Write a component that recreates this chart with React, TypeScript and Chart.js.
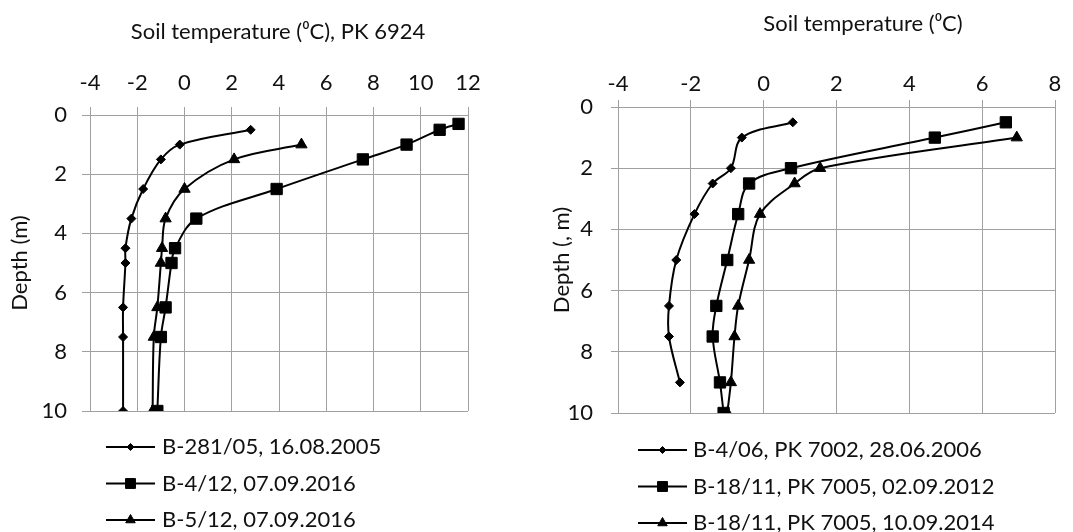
import React, { useEffect, useRef } from 'react';
import { Chart, registerables } from 'chart.js';
import { drawPoint } from 'chart.js/helpers';
Chart.register(...registerables);

// ---------- Data: left chart (PK 6924) ----------
const leftTitle = 'Soil temperature (\u2070C), PK 6924';
const leftYTitle = 'Depth (m)';
const leftXTicks = [-4, -2, 0, 2, 4, 6, 8, 10, 12];
const leftYTicks = [0, 2, 4, 6, 8, 10];
const leftLabels = ['B-281/05, 16.08.2005', 'B-4/12, 07.09.2016', 'B-5/12, 07.09.2016'];
const depthsA1 = [0.5, 1, 1.5, 2.5, 3.5, 4.5, 5, 6.5, 7.5, 10];
const tempsA1 = [2.8, -0.2, -1.0, -1.75, -2.25, -2.5, -2.5, -2.6, -2.6, -2.6];
const depthsA2 = [0.3, 0.5, 1, 1.5, 2.5, 3.5, 4.5, 5, 6.5, 7.5, 10];
const tempsA2 = [11.6, 10.8, 9.4, 7.55, 3.9, 0.5, -0.4, -0.55, -0.8, -1.0, -1.15];
const depthsA3 = [1, 1.5, 2.5, 3.5, 4.5, 5, 6.5, 7.5, 10];
const tempsA3 = [4.95, 2.1, 0.0, -0.8, -0.95, -1.0, -1.15, -1.3, -1.35];

// ---------- Data: right chart ----------
const rightTitle = 'Soil temperature (\u2070C)';
const rightYTitle = 'Depth (, m)';
const rightXTicks = [-4, -2, 0, 2, 4, 6, 8];
const rightYTicks = [0, 2, 4, 6, 8, 10];
const rightLabels = ['B-4/06, PK 7002, 28.06.2006', 'B-18/11, PK 7005, 02.09.2012', 'B-18/11, PK 7005, 10.09.2014'];
const depthsB1 = [0.5, 1, 2, 2.5, 3.5, 5, 6.5, 7.5, 9];
const tempsB1 = [0.8, -0.6, -0.9, -1.4, -1.9, -2.4, -2.6, -2.6, -2.3];
const depthsB2 = [0.5, 1, 2, 2.5, 3.5, 5, 6.5, 7.5, 9, 10];
const tempsB2 = [6.65, 4.7, 0.75, -0.4, -0.7, -1.0, -1.3, -1.4, -1.2, -1.1];
const depthsB3 = [1, 2, 2.5, 3.5, 5, 6.5, 7.5, 9, 10];
const tempsB3 = [6.95, 1.55, 0.85, -0.1, -0.4, -0.7, -0.8, -0.9, -1.0];

const FONT = 'Lato, "Open Sans", sans-serif';
const FS = 22;
const TEXT = '#111';
const GRID = '#a0a0a0';
const pointStyles = ['rectRot', 'rect', 'triangle'];
const pointRadii = [4.5, 8, 6.5];

function makeDatasets(labels: string[], temps: number[][], depths: number[][]) {
  return labels.map((label, i) => ({
    label,
    data: temps[i].map((t, j) => ({ x: t, y: depths[i][j] })),
    showLine: true,
    borderColor: '#000',
    backgroundColor: '#000',
    pointBackgroundColor: '#000',
    pointBorderColor: '#000',
    borderWidth: 2,
    tension: 0.35,
    pointStyle: pointStyles[i],
    pointRadius: pointRadii[i],
    pointBorderWidth: 1,
  }));
}

const freeTitle = {
  id: 'freeTitle',
  afterDraw(chart: any, _a: any, opts: any) {
    const ctx = chart.ctx;
    ctx.save();
    ctx.font = `${opts.size}px ${FONT}`;
    ctx.fillStyle = TEXT;
    ctx.textAlign = 'center';
    ctx.textBaseline = 'middle';
    ctx.fillText(opts.text, opts.x, opts.y);
    ctx.restore();
  },
};

const listLegend = {
  id: 'listLegend',
  afterDraw(chart: any, _a: any, opts: any) {
    const ctx = chart.ctx;
    ctx.save();
    chart.data.datasets.forEach((ds: any, i: number) => {
      const y = opts.y0 + i * opts.dy;
      ctx.strokeStyle = ds.borderColor;
      ctx.lineWidth = ds.borderWidth;
      ctx.beginPath();
      ctx.moveTo(opts.x0, y);
      ctx.lineTo(opts.x1, y);
      ctx.stroke();
      ctx.fillStyle = ds.pointBackgroundColor;
      ctx.strokeStyle = ds.pointBorderColor;
      ctx.lineWidth = 1;
      drawPoint(ctx, { pointStyle: ds.pointStyle, radius: ds.pointRadius - 1, rotation: 0, borderWidth: 1 } as any, (opts.x0 + opts.x1) / 2, y);
      ctx.font = `${opts.size}px ${FONT}`;
      ctx.fillStyle = TEXT;
      ctx.textAlign = 'left';
      ctx.textBaseline = 'middle';
      ctx.fillText(ds.label, opts.textX, y);
    });
    ctx.restore();
  },
};

function makeConfig(p: any): any {
  return {
    type: 'scatter',
    data: { datasets: p.datasets },
    plugins: [freeTitle, listLegend],
    options: {
      responsive: false,
      animation: false,
      layout: { padding: p.padding },
      plugins: {
        legend: { display: false },
        tooltip: { enabled: false },
        freeTitle: p.title,
        listLegend: p.legend,
      },
      scales: {
        x: {
          type: 'linear',
          position: 'top',
          min: p.xTicks[0],
          max: p.xTicks[p.xTicks.length - 1],
          afterBuildTicks: (s: any) => { s.ticks = p.xTicks.map((v: number) => ({ value: v })); },
          afterFit: (s: any) => { s.height = p.xHeight; },
          grid: { color: GRID, lineWidth: 1, tickLength: p.tickLen, tickColor: GRID },
          border: { color: GRID, width: 1 },
          ticks: { color: TEXT, font: { family: FONT, size: FS }, padding: p.xPad, maxRotation: 0 },
        },
        y: {
          type: 'linear',
          reverse: true,
          min: p.yTicks[0],
          max: p.yTicks[p.yTicks.length - 1],
          afterBuildTicks: (s: any) => { s.ticks = p.yTicks.map((v: number) => ({ value: v })); },
          afterFit: (s: any) => { s.width = p.yWidth; },
          grid: { color: GRID, lineWidth: 1, tickLength: p.tickLen, tickColor: GRID },
          border: { color: GRID, width: 1 },
          ticks: { color: TEXT, font: { family: FONT, size: FS }, padding: p.yPad },
          title: {
            display: true,
            text: p.yTitle,
            color: TEXT,
            font: { family: FONT, size: FS },
            padding: { top: p.yTitlePad, bottom: 0 },
          },
        },
      },
    },
  };
}

function ChartCanvas({ config, width, height, left }: any) {
  const ref = useRef<HTMLCanvasElement>(null);
  useEffect(() => {
    const chart = new Chart(ref.current as HTMLCanvasElement, config);
    return () => chart.destroy();
  }, []);
  return (
    <canvas
      ref={ref}
      width={width}
      height={height}
      style={{ position: 'absolute', left, top: 0, width, height, display: 'block' }}
    />
  );
}

export default function App() {
  const leftConfig = makeConfig({
    datasets: makeDatasets(leftLabels, [tempsA1, tempsA2, tempsA3], [depthsA1, depthsA2, depthsA3]),
    padding: { left: 0, top: 0, right: 67, bottom: 121 },
    xTicks: leftXTicks,
    yTicks: leftYTicks,
    xHeight: 115,
    yWidth: 90,
    tickLen: 8,
    xPad: 11,
    yPad: 15,
    yTitle: leftYTitle,
    yTitlePad: 7,
    title: { text: leftTitle, x: 278, y: 32, size: FS },
    legend: { x0: 106, x1: 155, textX: 162, y0: 447, dy: 36.5, size: FS },
  });
  const rightConfig = makeConfig({
    datasets: makeDatasets(rightLabels, [tempsB1, tempsB2, tempsB3], [depthsB1, depthsB2, depthsB3]),
    padding: { left: 0, top: 0, right: 18, bottom: 119 },
    xTicks: rightXTicks,
    yTicks: rightYTicks,
    xHeight: 107,
    yWidth: 83,
    tickLen: 7,
    xPad: 3,
    yPad: 18,
    yTitle: rightYTitle,
    yTitlePad: 14,
    title: { text: rightTitle, x: 328, y: 24, size: FS },
    legend: { x0: 103, x1: 152, textX: 158, y0: 450, dy: 36.5, size: FS },
  });
  return (
    <div style={{ position: 'fixed', left: 0, top: 0, width: 1073, height: 532, background: '#fff', overflow: 'hidden' }}>
      <ChartCanvas config={leftConfig} width={535} height={532} left={0} />
      <ChartCanvas config={rightConfig} width={538} height={532} left={535} />
    </div>
  );
}
